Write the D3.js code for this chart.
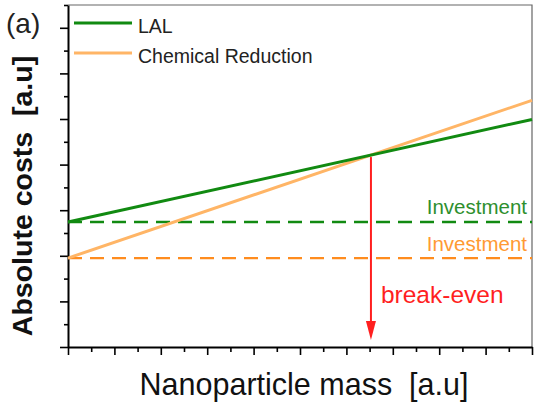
<!DOCTYPE html>
<html>
<head>
<meta charset="utf-8">
<script src="https://cdn.jsdelivr.net/npm/d3@7"></script>
<style>
  html, body { margin: 0; padding: 0; background: #fff; }
  svg { display: block; font-family: Arial, 'Liberation Sans', sans-serif; }
</style>
</head>
<body>
<div id="viz"></div>
<script>
const W = 534;
const H = 405;

// Data (arbitrary units)
const massDomain = [0, 20];
const costDomain = [0, 15];
const massPoints = [0, 20];
const lalCost = [5.48, 9.98];
const chemCost = [3.9, 10.82];
const lalInvestment = 5.48;
const chemInvestment = 3.9;
const seriesNames = ['LAL', 'Chemical Reduction'];
const xTicks = d3.range(0, 21);
const yTicks = d3.range(0, 16);

const GREEN = '#118a11';
const ORANGE_LIGHT = '#ffb566';
const ORANGE_DARK = '#ff8c1e';
const RED = '#ff1f1f';

const margin = { left: 68, right: 2, top: 5, bottom: 58 };

const svg = d3.select('#viz')
  .append('svg')
  .attr('width', W)
  .attr('height', H);

const x = d3.scaleLinear().domain(massDomain).range([margin.left, W - margin.right]);
const y = d3.scaleLinear().domain(costDomain).range([H - margin.bottom, margin.top]);

// frame (top and right)
svg.append('path')
  .attr('d', `M${x(0)},${y(15)}H${x(20)}V${y(0)}`)
  .attr('fill', 'none')
  .attr('stroke', '#666')
  .attr('stroke-width', 1.2);

// axes
const xAxis = svg.append('g')
  .attr('transform', `translate(0,${y(0)})`)
  .call(d3.axisBottom(x).tickValues(xTicks).tickFormat('').tickSizeOuter(0));
xAxis.selectAll('.tick line')
  .attr('y2', (d) => (d % 2 === 0 ? 8 : 5))
  .attr('stroke-width', 1.6);

const yAxis = svg.append('g')
  .attr('transform', `translate(${x(0)},0)`)
  .call(d3.axisLeft(y).tickValues(yTicks).tickFormat('').tickSizeOuter(0));
yAxis.selectAll('.tick line')
  .attr('x2', (d) => (d % 2 === 0 ? -8 : -4))
  .attr('stroke-width', 1.6);

[xAxis, yAxis].forEach((g) => g.select('.domain').attr('stroke', '#000').attr('stroke-width', 2));

// investment levels
const dashed = [
  { v: lalInvestment, color: GREEN, label: 'Investment', textColor: '#2e8f2e', dy: -8 },
  { v: chemInvestment, color: ORANGE_DARK, label: 'Investment', textColor: '#ff9a33', dy: -7 },
];
svg.selectAll('line.invest')
  .data(dashed)
  .join('line')
  .attr('class', 'invest')
  .attr('x1', x(0))
  .attr('x2', x(20))
  .attr('y1', (d) => y(d.v))
  .attr('y2', (d) => y(d.v))
  .attr('stroke', (d) => d.color)
  .attr('stroke-width', 2.4)
  .attr('stroke-dasharray', '14,8');

svg.selectAll('text.invest')
  .data(dashed)
  .join('text')
  .attr('class', 'invest')
  .attr('x', 527)
  .attr('y', (d) => y(d.v) + d.dy)
  .attr('text-anchor', 'end')
  .attr('font-size', 20.5)
  .attr('fill', (d) => d.textColor)
  .text((d) => d.label);

// cost lines
const line = d3.line().x((d) => x(d[0])).y((d) => y(d[1]));
const series = [
  { name: seriesNames[1], values: chemCost, color: ORANGE_LIGHT },
  { name: seriesNames[0], values: lalCost, color: GREEN },
];
svg.selectAll('path.cost')
  .data(series)
  .join('path')
  .attr('class', 'cost')
  .attr('d', (s) => line(massPoints.map((m, i) => [m, s.values[i]])))
  .attr('fill', 'none')
  .attr('stroke', (s) => s.color)
  .attr('stroke-width', 3);

// break-even point
const slope = (v) => (v[1] - v[0]) / (massPoints[1] - massPoints[0]);
const beX = (lalCost[0] - chemCost[0]) / (slope(chemCost) - slope(lalCost));
const beY = lalCost[0] + slope(lalCost) * beX;
const arrowTip = y(0) - 7;
svg.append('line')
  .attr('x1', x(beX))
  .attr('x2', x(beX))
  .attr('y1', y(beY) + 2)
  .attr('y2', arrowTip - 14)
  .attr('stroke', RED)
  .attr('stroke-width', 2);
svg.append('path')
  .attr('d', `M${x(beX) - 5},${arrowTip - 19}L${x(beX) + 5},${arrowTip - 19}L${x(beX)},${arrowTip}Z`)
  .attr('fill', RED);
svg.append('text')
  .attr('x', x(beX) + 10)
  .attr('y', 303)
  .attr('font-size', 24.5)
  .attr('fill', RED)
  .text('break-even');

// legend
const legend = svg.append('g');
[
  { name: seriesNames[0], color: GREEN, y: 23 },
  { name: seriesNames[1], color: ORANGE_LIGHT, y: 53 },
].forEach((d) => {
  legend.append('line')
    .attr('x1', 74).attr('x2', 132)
    .attr('y1', d.y).attr('y2', d.y)
    .attr('stroke', d.color)
    .attr('stroke-width', 3);
  legend.append('text')
    .attr('x', 138)
    .attr('y', d.y + 9.5)
    .attr('font-size', 19.5)
    .attr('fill', '#222')
    .text(d.name);
});

// labels
svg.append('text')
  .attr('x', 6)
  .attr('y', 33)
  .attr('font-size', 28)
  .attr('fill', '#222')
  .text('(a)');

svg.append('text')
  .attr('transform', 'translate(32,196) rotate(-90)')
  .attr('text-anchor', 'middle')
  .attr('font-size', 28.5)
  .attr('font-weight', 'bold')
  .attr('fill', '#111')
  .style('white-space', 'pre')
  .text('Absolute costs  [a.u]');

svg.append('text')
  .attr('x', 304)
  .attr('y', 395)
  .attr('text-anchor', 'middle')
  .attr('font-size', 30.5)
  .attr('fill', '#111')
  .style('white-space', 'pre')
  .text('Nanoparticle mass  [a.u]');
</script>
</body>
</html>
